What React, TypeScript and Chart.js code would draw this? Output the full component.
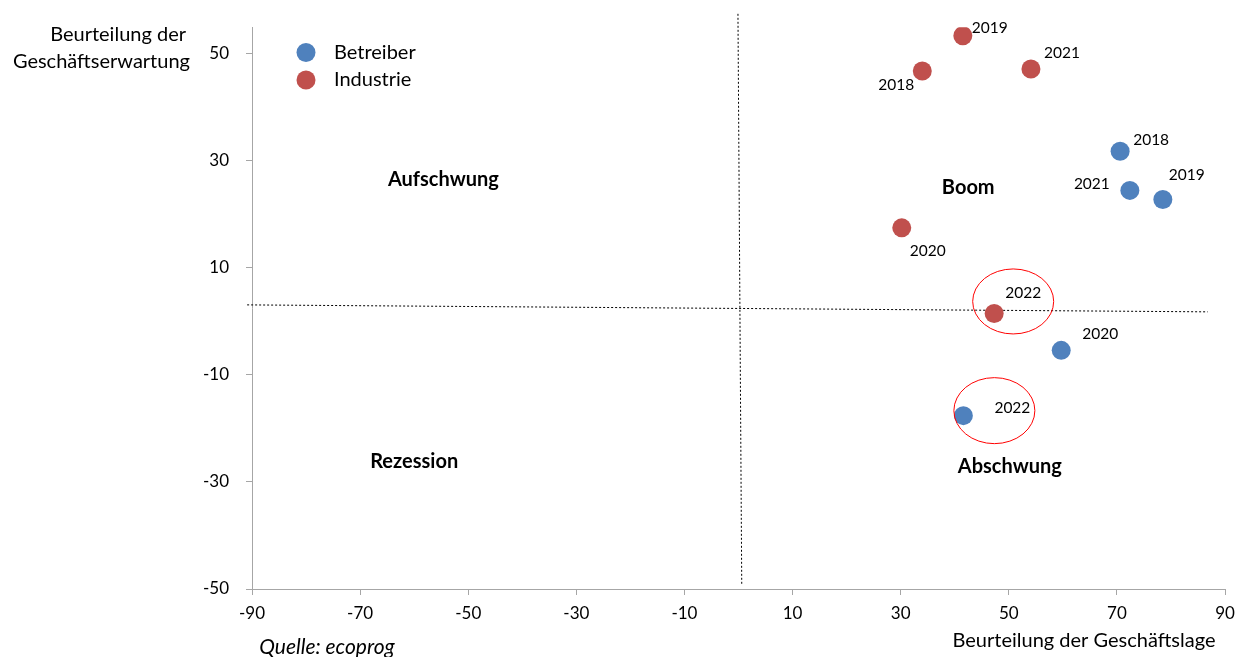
import React, { useEffect, useRef } from "react";
import { Chart, registerables } from "chart.js";

Chart.register(...registerables);

// ---- data ----
const years = ["2018", "2019", "2020", "2021", "2022"];
const betreiberX = [70.6, 78.5, 59.7, 72.4, 41.6];
const betreiberY = [31.8, 22.8, -5.4, 24.5, -17.6];
const industrieX = [34.0, 41.5, 30.2, 54.1, 47.3];
const industrieY = [46.8, 53.4, 17.5, 47.2, 1.5];
const seriesNames = ["Betreiber", "Industrie"];

const xTicks = [-90, -70, -50, -30, -10, 10, 30, 50, 70, 90];
const yTicks = [-50, -30, -10, 10, 30, 50];

const quadrantNames = ["Aufschwung", "Boom", "Rezession", "Abschwung"];
const quadrantX = [-54.6, 42.5, -60.0, 50.2];
const quadrantY = [26.5, 25.0, -26.2, -27.1];

// dotted separator lines (start / end values)
const vLineX = [-0.1, 0.6];
const vLineY = [57.5, -49.3];
const hLineX = [-90.9, 86.8];
const hLineY = [3.1, 1.8];

const yTitleLines = ["Beurteilung der", "Geschäftserwartung"];
const xTitle = "Beurteilung der Geschäftslage";
const sourceText = "Quelle: ecoprog";

const FONT = "Lato, 'Open Sans', sans-serif";
const BLUE = "#4F81BD";
const RED = "#C0504D";

// label offsets in pixels [series][yearIndex]
const labelOffsets = [
  [[31, -11], [24, -24], [39, -16], [-38, -6], [49, -8]],
  [[-26, 14], [27, -8], [26, 23], [31, -16], [29, -20]],
];
// highlight ellipses around the 2022 points: [series, yearIndex, dx, dy, rx, ry]
const highlights = [
  [1, 4, 19, -12, 40.5, 32.5],
  [0, 4, 31, -5, 40.5, 33],
];

const overlayPlugin = {
  id: "overlay",
  beforeDatasetsDraw(chart: any) {
    const { ctx, scales } = chart;
    const xs = scales.x;
    const ys = scales.y;
    ctx.save();
    ctx.strokeStyle = "#000";
    ctx.lineWidth = 1;
    ctx.setLineDash([2, 2]);
    ctx.beginPath();
    ctx.moveTo(xs.getPixelForValue(vLineX[0]), ys.getPixelForValue(vLineY[0]));
    ctx.lineTo(xs.getPixelForValue(vLineX[1]), ys.getPixelForValue(vLineY[1]));
    ctx.stroke();
    ctx.beginPath();
    ctx.moveTo(xs.getPixelForValue(hLineX[0]), ys.getPixelForValue(hLineY[0]));
    ctx.lineTo(xs.getPixelForValue(hLineX[1]), ys.getPixelForValue(hLineY[1]));
    ctx.stroke();
    ctx.restore();
  },
  afterDatasetsDraw(chart: any) {
    const { ctx, scales } = chart;
    const xs = scales.x;
    const ys = scales.y;
    ctx.save();
    // point labels
    ctx.fillStyle = "#000";
    ctx.font = `15.5px ${FONT}`;
    ctx.textAlign = "center";
    ctx.textBaseline = "middle";
    chart.data.datasets.forEach((ds: any, si: number) => {
      const meta = chart.getDatasetMeta(si);
      meta.data.forEach((pt: any, i: number) => {
        const off = labelOffsets[si][i];
        ctx.fillText(years[i], pt.x + off[0], pt.y + off[1]);
      });
    });
    // highlight ellipses
    ctx.strokeStyle = "#FF0000";
    ctx.lineWidth = 1;
    highlights.forEach((h) => {
      const pt = chart.getDatasetMeta(h[0]).data[h[1]];
      ctx.beginPath();
      ctx.ellipse(pt.x + h[2], pt.y + h[3], h[4], h[5], 0, 0, Math.PI * 2);
      ctx.stroke();
    });
    // quadrant labels
    ctx.font = `bold 20px ${FONT}`;
    quadrantNames.forEach((q, i) => {
      ctx.fillText(q, xs.getPixelForValue(quadrantX[i]), ys.getPixelForValue(quadrantY[i]));
    });
    // legend
    const colors = [BLUE, RED];
    seriesNames.forEach((n, i) => {
      const cy = 52.5 + i * 27.5;
      ctx.fillStyle = colors[i];
      ctx.beginPath();
      ctx.arc(306, cy, 9.5, 0, Math.PI * 2);
      ctx.fill();
      ctx.fillStyle = "#000";
      ctx.font = `20px ${FONT}`;
      ctx.textAlign = "left";
      ctx.fillText(n, 334, cy);
    });
    // y title
    ctx.font = `20px ${FONT}`;
    ctx.textAlign = "right";
    ctx.fillText(yTitleLines[0], 186, 35);
    ctx.fillText(yTitleLines[1], 190, 62);
    // x title
    ctx.textAlign = "center";
    ctx.fillText(xTitle, 1084, 641);
    // source
    ctx.font = `italic 21px ${FONT}`;
    ctx.fillText(sourceText, 327, 647);
    ctx.restore();
  },
};

export default function App() {
  const ref = useRef<HTMLCanvasElement | null>(null);
  useEffect(() => {
    document.body.style.margin = "0";
    const canvas = ref.current!;
    const mk = (xsArr: number[], ysArr: number[]) => xsArr.map((x, i) => ({ x, y: ysArr[i] }));
    const chart = new Chart(canvas, {
      type: "scatter",
      data: {
        datasets: [
          {
            label: seriesNames[0],
            data: mk(betreiberX, betreiberY),
            backgroundColor: BLUE,
            borderColor: BLUE,
            pointRadius: 9.5,
            pointHoverRadius: 9.5,
            borderWidth: 0,
          },
          {
            label: seriesNames[1],
            data: mk(industrieX, industrieY),
            backgroundColor: RED,
            borderColor: RED,
            pointRadius: 9.5,
            pointHoverRadius: 9.5,
            borderWidth: 0,
          },
        ],
      },
      options: {
        animation: false,
        responsive: false,
        maintainAspectRatio: false,
        layout: { padding: { left: 0, right: 23, top: 25, bottom: 0 } },
        plugins: { legend: { display: false }, tooltip: { enabled: false } },
        scales: {
          x: {
            type: "linear",
            min: -90,
            max: 90,
            afterBuildTicks: (s: any) => {
              s.ticks = xTicks.map((v) => ({ value: v }));
            },
            afterFit: (s: any) => {
              s.height = 68;
            },
            grid: { drawOnChartArea: false, drawTicks: true, tickLength: 6, color: "#A6A6A6" },
            border: { color: "#A6A6A6", width: 1 },
            ticks: { color: "#000", font: { family: FONT, size: 17 }, padding: 8, maxRotation: 0 },
          },
          y: {
            type: "linear",
            min: -50,
            max: 55,
            afterBuildTicks: (s: any) => {
              s.ticks = yTicks.map((v) => ({ value: v }));
            },
            afterFit: (s: any) => {
              s.width = 252;
            },
            grid: { drawOnChartArea: false, drawTicks: true, tickLength: 6, color: "#A6A6A6" },
            border: { color: "#A6A6A6", width: 1 },
            ticks: { color: "#000", font: { family: FONT, size: 17 }, padding: 17 },
          },
        },
      },
      plugins: [overlayPlugin],
    } as any);
    return () => chart.destroy();
  }, []);
  return (
    <div style={{ width: 1248, height: 657 }}>
      <canvas ref={ref} width={1248} height={657} style={{ display: "block" }} />
    </div>
  );
}
